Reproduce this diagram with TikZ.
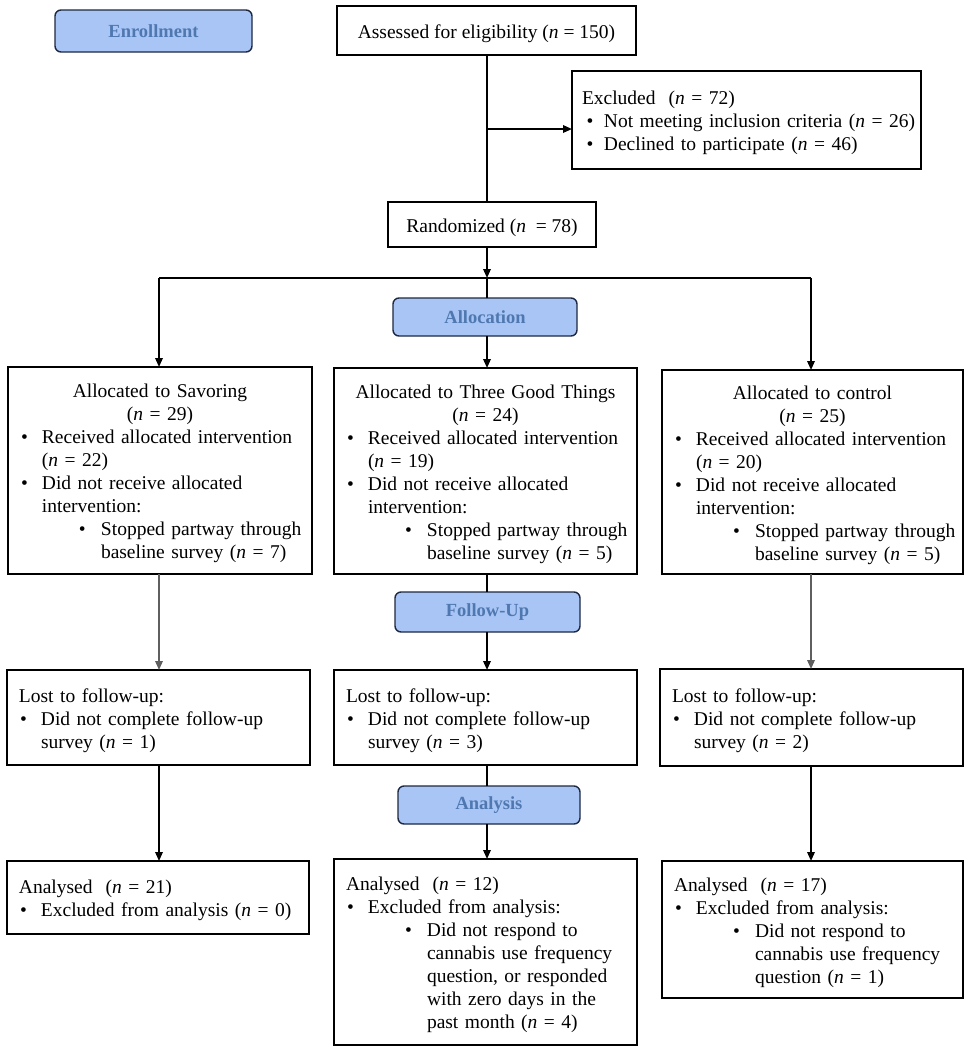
\documentclass[tikz,border=0pt]{standalone}
\usepackage{fontspec}
\setmainfont{Liberation Serif}
\usetikzlibrary{arrows.meta}
\definecolor{labfill}{RGB}{168,197,245}
\definecolor{labtext}{RGB}{79,120,176}
\definecolor{labdraw}{RGB}{30,40,65}
\definecolor{lgray}{RGB}{95,95,95}
\newcommand\nI{\textit{n}}
\newcommand\Tp{\rule{0pt}{20pt}}
\newcommand\Ln[1]{\hspace*{9pt}\mbox{#1}}
\newcommand\Bu[1]{\hspace*{10pt}\makebox[21pt][l]{\textbullet}\mbox{#1}}
\newcommand\Bc[1]{\hspace*{31pt}\mbox{#1}}
\newcommand\Sb[1]{\hspace*{68pt}\makebox[22pt][l]{\textbullet}\mbox{#1}}
\newcommand\Sc[1]{\hspace*{90pt}\mbox{#1}}
\newcommand\Ct[1]{\makebox[\linewidth][c]{#1}}
\newcommand\Xb[1]{\hspace*{11.5pt}\makebox[17.5pt][l]{\textbullet}\mbox{#1}}
\begin{document}
\begin{tikzpicture}[x=1pt,y=-1pt,
  box/.style={draw, line width=1.4pt, inner xsep=3pt, inner ysep=0pt, outer sep=0pt,
    anchor=north west, align=left, font={\fontsize{19.5}{23}\selectfont}},
  cbox/.style={draw, line width=1.4pt, inner sep=0pt, outer sep=0pt, text height=15.5pt, text depth=0pt,
    anchor=north west, align=center, font={\fontsize{19.5}{23}\selectfont}},
  lab/.style={draw=labdraw, fill=labfill, text=labtext, rounded corners=6pt, line width=1.4pt,
    inner sep=0pt, outer sep=0pt, anchor=north west, font={\fontsize{18.5}{22}\selectfont\bfseries}},
  conn/.style={line width=1.7pt},
  arr/.style={conn, -{Triangle[length=9pt,width=7.5pt]}}
]
\useasboundingbox (0,0) rectangle (970,1050);

% phase labels
\node[lab, minimum width=197pt, minimum height=42pt] (enroll) at (55,10) {Enrollment};
\node[lab, minimum width=184pt, minimum height=38pt] (allocl) at (393,298) {Allocation};
\node[lab, minimum width=185pt, minimum height=40pt] (follow) at (395,592) {Follow-Up};
\node[lab, minimum width=182pt, minimum height=38pt] (analysis) at (398,786) {Analysis};

% enrollment
\node[cbox, minimum width=299pt, minimum height=49pt] (assess) at (337,6)
  {Assessed for eligibility (\nI{} = 150)};
\node[box, text width=343pt, minimum height=98pt] (excl) at (572,71)
  {\Tp\hspace*{7pt}\mbox{Excluded\ \ (\nI{} = 72)}\\
   \Xb{Not meeting inclusion criteria (\nI{} = 26)}\\
   \Xb{Declined to participate (\nI{} = 46)}};
\node[cbox, minimum width=208pt, minimum height=45pt] (rand) at (388,202)
  {Randomized (\nI{}\ \ = 78)};

% allocation
\node[box, text width=298pt, minimum height=207pt] (salloc) at (8,367)
  {\Tp\Ct{Allocated to Savoring}\\
   \Ct{(\nI{} = 29)}\\
   \Bu{Received allocated intervention}\\
   \Bc{(\nI{} = 22)}\\
   \Bu{Did not receive allocated}\\
   \Bc{intervention:}\\
   \Sb{Stopped partway through}\\
   \Sc{baseline survey (\nI{} = 7)}};
\node[box, text width=297pt, minimum height=206pt] (talloc) at (334,368)
  {\Tp\Ct{Allocated to Three Good Things}\\
   \Ct{(\nI{} = 24)}\\
   \Bu{Received allocated intervention}\\
   \Bc{(\nI{} = 19)}\\
   \Bu{Did not receive allocated}\\
   \Bc{intervention:}\\
   \Sb{Stopped partway through}\\
   \Sc{baseline survey (\nI{} = 5)}};
\node[box, text width=295pt, minimum height=204pt] (calloc) at (662,370)
  {\Tp\Ct{Allocated to control}\\
   \Ct{(\nI{} = 25)}\\
   \Bu{Received allocated intervention}\\
   \Bc{(\nI{} = 20)}\\
   \Bu{Did not receive allocated}\\
   \Bc{intervention:}\\
   \Sb{Stopped partway through}\\
   \Sc{baseline survey (\nI{} = 5)}};

% follow-up
\node[box, text width=297pt, minimum height=95pt] (slost) at (7,670)
  {\Tp\Ln{Lost to follow-up:}\\
   \Bu{Did not complete follow-up}\\
   \Bc{survey (\nI{} = 1)}};
\node[box, text width=297pt, minimum height=95pt] (tlost) at (334,670)
  {\Tp\Ln{Lost to follow-up:}\\
   \Bu{Did not complete follow-up}\\
   \Bc{survey (\nI{} = 3)}};
\node[box, text width=297pt, minimum height=97pt] (clost) at (660,669)
  {\Tp\Ln{Lost to follow-up:}\\
   \Bu{Did not complete follow-up}\\
   \Bc{survey (\nI{} = 2)}};

% analysis
\node[box, text width=296pt, minimum height=73pt] (sana) at (7,861)
  {\Tp\Ln{Analysed\ \ (\nI{} = 21)}\\
   \Bu{Excluded from analysis (\nI{} = 0)}};
\node[box, text width=297pt, minimum height=186pt] (tana) at (334,859)
  {\Tp\Ln{Analysed\ \ (\nI{} = 12)}\\
   \Bu{Excluded from analysis:}\\
   \Sb{Did not respond to}\\
   \Sc{cannabis use frequency}\\
   \Sc{question, or responded}\\
   \Sc{with zero days in the}\\
   \Sc{past month (\nI{} = 4)}};
\node[box, text width=295pt, minimum height=137pt] (cana) at (662,861)
  {\Tp\Ln{Analysed\ \ (\nI{} = 17)}\\
   \Bu{Excluded from analysis:}\\
   \Sb{Did not respond to}\\
   \Sc{cannabis use frequency}\\
   \Sc{question (\nI{} = 1)}};

% connectors
\coordinate (j) at (487,278);
\coordinate (ex) at (487,129);
\coordinate (lc) at (159,0);
\coordinate (rc) at (811,0);
\draw[conn] (j |- assess.south) -- (j |- rand.north);
\draw[arr] (ex) -- (ex -| excl.west);
\draw[arr] (j |- rand.south) -- (j);
\draw[conn] (j -| lc) -- (j -| rc);
\draw[arr] (j -| lc) -- (lc |- salloc.north);
\draw[arr] (j -| rc) -- (rc |- calloc.north);
\draw[conn] (j) -- (j |- allocl.north);
\draw[arr] (j |- allocl.south) -- (j |- talloc.north);
\draw[arr, lgray] (lc |- salloc.south) -- (lc |- slost.north);
\draw[conn] (j |- talloc.south) -- (j |- follow.north);
\draw[arr] (j |- follow.south) -- (j |- tlost.north);
\draw[arr, lgray] (rc |- calloc.south) -- (rc |- clost.north);
\draw[arr] (lc |- slost.south) -- (lc |- sana.north);
\draw[conn] (j |- tlost.south) -- (j |- analysis.north);
\draw[arr] (j |- analysis.south) -- (j |- tana.north);
\draw[arr] (rc |- clost.south) -- (rc |- cana.north);
\end{tikzpicture}
\end{document}
